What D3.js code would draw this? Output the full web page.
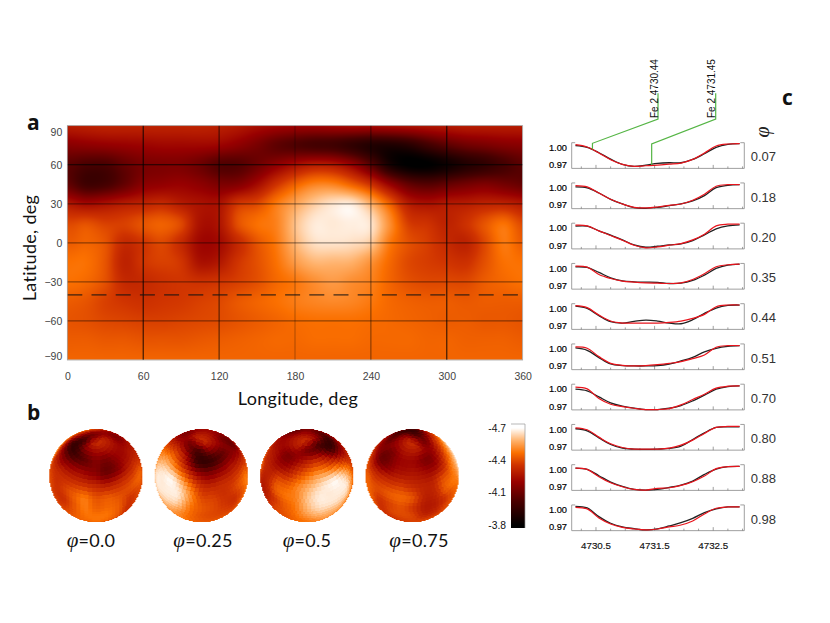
<!DOCTYPE html>
<html>
<head>
<meta charset="utf-8">
<script src="https://cdn.jsdelivr.net/npm/d3@7/dist/d3.min.js"></script>
<style>
html,body{margin:0;padding:0;background:#fff;}
svg{display:block;}
text{font-family:"Liberation Sans",sans-serif;}
.title{font-family:"Lato",sans-serif;fill:#111;letter-spacing:0.3px;}
</style>
</head>
<body>
<svg id="chart" width="830" height="623"></svg>
<script>
//map values. rows: lat 90 to -90 step 15, columns: lon 0 to 360 step 15
var mapLat=[90,75,60,45,30,15,0,-15,-30,-45,-60,-75,-90];
var map90=[-4.18,-4.19,-4.20,-4.20,-4.20,-4.20,-4.20,-4.20,-4.19,-4.17,-4.14,-4.12,-4.11,-4.11,-4.12,-4.13,-4.13,-4.14,-4.15,-4.16,-4.17,-4.18,-4.18,-4.18,-4.18];
var map75=[-4.07,-4.08,-4.09,-4.10,-4.11,-4.12,-4.12,-4.12,-4.11,-4.08,-4.04,-3.99,-3.96,-3.94,-3.93,-3.90,-3.87,-3.86,-3.88,-3.93,-3.98,-4.02,-4.04,-4.06,-4.07];
var map60=[-3.98,-3.95,-3.95,-4.00,-4.04,-4.05,-4.05,-4.02,-3.97,-3.97,-4.02,-4.08,-4.14,-4.18,-4.17,-4.10,-3.98,-3.85,-3.80,-3.80,-3.83,-3.87,-3.90,-3.94,-3.98];
var map45=[-4.00,-3.93,-3.94,-4.00,-4.07,-4.09,-4.10,-4.08,-4.05,-4.06,-4.13,-4.24,-4.36,-4.44,-4.44,-4.36,-4.24,-4.10,-4.00,-3.97,-4.00,-4.03,-4.05,-4.03,-4.00];
var map30=[-4.17,-4.13,-4.15,-4.18,-4.20,-4.22,-4.18,-4.15,-4.15,-4.25,-4.30,-4.42,-4.52,-4.60,-4.65,-4.66,-4.55,-4.36,-4.18,-4.15,-4.17,-4.18,-4.20,-4.20,-4.17];
var map15=[-4.30,-4.32,-4.28,-4.28,-4.33,-4.36,-4.30,-4.15,-4.16,-4.32,-4.40,-4.44,-4.58,-4.66,-4.66,-4.67,-4.65,-4.47,-4.27,-4.24,-4.20,-4.24,-4.33,-4.40,-4.30];
var map00=[-4.35,-4.37,-4.33,-4.22,-4.25,-4.30,-4.22,-4.12,-4.13,-4.22,-4.33,-4.42,-4.56,-4.64,-4.65,-4.64,-4.60,-4.42,-4.32,-4.27,-4.22,-4.20,-4.30,-4.42,-4.35];
var mapS15=[-4.40,-4.40,-4.33,-4.20,-4.25,-4.28,-4.25,-4.15,-4.17,-4.25,-4.32,-4.40,-4.50,-4.56,-4.56,-4.55,-4.48,-4.38,-4.30,-4.27,-4.25,-4.24,-4.32,-4.40,-4.40];
var mapS30=[-4.40,-4.38,-4.32,-4.22,-4.22,-4.24,-4.25,-4.24,-4.25,-4.28,-4.32,-4.38,-4.42,-4.47,-4.50,-4.47,-4.44,-4.37,-4.32,-4.30,-4.30,-4.30,-4.35,-4.38,-4.40];
var mapS45=[-4.35,-4.33,-4.28,-4.25,-4.24,-4.25,-4.26,-4.28,-4.30,-4.34,-4.37,-4.40,-4.43,-4.45,-4.46,-4.45,-4.42,-4.38,-4.36,-4.35,-4.35,-4.34,-4.35,-4.35,-4.35];
var mapS60=[-4.33,-4.32,-4.30,-4.29,-4.28,-4.28,-4.29,-4.30,-4.31,-4.33,-4.35,-4.37,-4.39,-4.40,-4.40,-4.40,-4.39,-4.38,-4.37,-4.36,-4.35,-4.35,-4.34,-4.34,-4.33];
var mapS75=[-4.35,-4.35,-4.34,-4.34,-4.33,-4.33,-4.33,-4.34,-4.35,-4.36,-4.37,-4.38,-4.38,-4.39,-4.39,-4.39,-4.38,-4.38,-4.38,-4.37,-4.37,-4.36,-4.36,-4.36,-4.35];
var mapS90=[-4.37,-4.37,-4.37,-4.37,-4.37,-4.37,-4.37,-4.37,-4.37,-4.37,-4.37,-4.37,-4.37,-4.37,-4.37,-4.37,-4.37,-4.37,-4.37,-4.37,-4.37,-4.37,-4.37,-4.37,-4.37];

//colour table, taken from the colour bar
var abundStops=[-3.8,-4.02,-4.2,-4.36,-4.47,-4.58,-4.7];
var abundColors=["#000000","#4a0000","#980000","#d03400","#fb7000","#ffb068","#ffffff"];
//the rows above were read with a first guess ramp, this puts them on the bar
var readStops=[-3.8,-3.95,-4.1,-4.25,-4.4,-4.55,-4.7];
var calibrate=d3.scaleLinear().domain(readStops).range(abundStops);
var mapRows=[map90,map75,map60,map45,map30,map15,map00,mapS15,mapS30,mapS45,mapS60,mapS75,mapS90].map(function(r){
	return r.map(function(v){return calibrate(v);});
});

var lonTicks=[0,60,120,180,240,300,360];
var latTicks=[90,60,30,0,-30,-60,-90];
var barTicks=[-4.7,-4.4,-4.1,-3.8];
var dashLat=-40;
var lineStrength={60:0.9,120:0.7,180:0.3,240:0.5,300:0.9};

//globes
var globePhases=[0.0,0.25,0.5,0.75];
var globeLabels=["0.0","0.25","0.5","0.75"];
var globeLabelX=[91,203,307,419];
var globeTilt=43;
var globeDark=0.75,globeMean=-4.45;

//line profiles
var wave=[4730.15,4730.35,4730.55,4730.75,4730.95,4731.15,4731.35,4731.55,4731.75,4731.95,4732.15,4732.35,4732.55,4732.75,4732.95];
var phases=["0.07","0.18","0.20","0.35","0.44","0.51","0.70","0.80","0.88","0.98"];
var fluxObs=[
	[1.0035,1.0006,.9913,.9803,.9711,.9676,.9699,.9728,.9739,.9739,.9797,.9896,1.0006,1.0058,1.0070],
	[1.0018,1.0000,.9913,.9803,.9722,.9659,.9647,.9664,.9693,.9722,.9774,.9867,1.0006,1.0046,1.0058],
	[1.0035,1.0035,.9954,.9879,.9797,.9711,.9670,.9687,.9711,.9728,.9786,.9884,.9989,1.0041,1.0058],
	[1.0029,1.0018,.9931,.9838,.9786,.9769,.9763,.9757,.9739,.9745,.9792,.9884,1.0000,1.0058,1.0075],
	[1.0046,1.0006,.9879,.9774,.9751,.9780,.9803,.9786,.9751,.9739,.9809,.9919,1.0012,1.0058,1.0064],
	[1.0018,.9977,.9850,.9739,.9711,.9705,.9705,.9711,.9739,.9792,.9855,.9948,1.0012,1.0046,1.0058],
	[1.0000,.9971,.9867,.9763,.9705,.9670,.9647,.9647,.9670,.9716,.9797,.9896,1.0000,1.0046,1.0058],
	[1.0012,.9977,.9855,.9739,.9676,.9659,.9653,.9659,.9670,.9711,.9826,.9942,1.0035,1.0046,1.0046],
	[1.0029,1.0006,.9896,.9786,.9711,.9659,.9647,.9659,.9693,.9734,.9803,.9919,1.0012,1.0052,1.0058],
	[1.0064,1.0035,.9884,.9769,.9705,.9676,.9653,.9670,.9722,.9780,.9855,.9954,1.0018,1.0052,1.0052]
];
var fluxFit=[
	[1.0052,1.0012,.9908,.9792,.9711,.9676,.9687,.9699,.9716,.9734,.9797,.9908,1.0029,1.0064,1.0070],
	[1.0041,1.0018,.9913,.9803,.9722,.9664,.9653,.9670,.9699,.9722,.9786,.9890,1.0029,1.0058,1.0058],
	[1.0052,1.0041,.9954,.9873,.9792,.9705,.9659,.9676,.9705,.9734,.9797,.9896,1.0041,1.0070,1.0070],
	[1.0041,1.0023,.9896,.9826,.9780,.9763,.9751,.9745,.9739,.9751,.9809,.9908,1.0029,1.0064,1.0075],
	[1.0052,1.0018,.9890,.9786,.9751,.9751,.9751,.9751,.9763,.9786,.9832,.9902,1.0035,1.0064,1.0064],
	[1.0035,1.0012,.9867,.9751,.9716,.9705,.9711,.9728,.9751,.9780,.9832,.9896,1.0029,1.0058,1.0058],
	[1.0035,1.0006,.9838,.9739,.9699,.9670,.9647,.9647,.9664,.9728,.9821,.9913,1.0018,1.0052,1.0058],
	[1.0029,.9994,.9867,.9751,.9687,.9659,.9659,.9659,.9676,.9728,.9815,.9931,1.0035,1.0052,1.0052],
	[1.0029,1.0006,.9879,.9774,.9705,.9659,.9647,.9676,.9687,.9728,.9792,.9890,1.0018,1.0052,1.0058],
	[1.0046,1.0018,.9861,.9757,.9699,.9670,.9653,.9670,.9705,.9739,.9809,.9931,1.0029,1.0052,1.0052]
];
var waveTicks=[4730.5,4731.5,4732.5];
var fluxTicks=[1.00,0.97];
var lineWaves=[4730.44,4731.45];
var lineNames=["Fe 2 4730.44","Fe 2 4731.45"];

var svg=d3.select("#chart");
var color=d3.scaleLinear().domain(abundStops).range(abundColors).clamp(true);

function catmull(p0,p1,p2,p3,t){
	return 0.5*(2*p1+(p2-p0)*t+(2*p0-5*p1+4*p2-p3)*t*t+(3*p1-p0-3*p2+p3)*t*t*t);
}

//grid lookup, wraps in longitude
function cell(r,c){
	r=Math.max(0,Math.min(mapRows.length-1,r));
	c=(c+24)%24;
	return mapRows[r][c];
}

function sample(lon,lat){
	var fc=((lon%360)+360)%360/15,fr=(90-lat)/15;
	var c=Math.floor(fc),r=Math.min(Math.floor(fr),mapRows.length-2);
	var tc=fc-c,tr=fr-r;
	var rows=[-1,0,1,2].map(function(dr){
		return catmull(cell(r+dr,c-1),cell(r+dr,c),cell(r+dr,c+1),cell(r+dr,c+2),tc);
	});
	return catmull(rows[0],rows[1],rows[2],rows[3],tr);
}

function putImage(x,y,w,h,paint){
	var canvas=document.createElement("canvas");
	canvas.width=w;canvas.height=h;
	var ctx=canvas.getContext("2d");
	var img=ctx.createImageData(w,h);
	for(var j=0;j<h;j++){
		for(var i=0;i<w;i++){
			var v=paint(i,j);
			if(v===null) continue;
			var c=d3.rgb(color(v)),k=(j*w+i)*4;
			img.data[k]=c.r;img.data[k+1]=c.g;img.data[k+2]=c.b;img.data[k+3]=255;
		}
	}
	ctx.putImageData(img,0,0);
	return svg.append("image").attr("x",x).attr("y",y).attr("width",w).attr("height",h)
		.attr("href",canvas.toDataURL());
}

//a. surface map
var lonScale=d3.scaleLinear().domain([0,360]).range([67.3,522.7]);
var latScale=d3.scaleLinear().domain([90,-90]).range([125.7,360]);
var mapW=Math.round(lonScale(360)-lonScale(0)),mapH=Math.round(latScale(-90)-latScale(90));
putImage(lonScale(0),latScale(90),mapW,mapH,function(i,j){
	return sample(lonScale.invert(lonScale(0)+i+0.5),latScale.invert(latScale(90)+j+0.5));
});

var grid=svg.append("g").attr("stroke","#000");
grid.selectAll(".vline").data(lonTicks.slice(1,-1)).enter().append("line")
	.attr("x1",lonScale).attr("x2",lonScale)
	.attr("y1",latScale(90)).attr("y2",latScale(-90))
	.attr("stroke-opacity",function(d){return lineStrength[d];});
grid.selectAll(".hline").data(latTicks.slice(1,-1)).enter().append("line")
	.attr("y1",latScale).attr("y2",latScale)
	.attr("x1",lonScale(0)).attr("x2",lonScale(360))
	.attr("stroke-width",1.2)
	.attr("stroke-opacity",function(d){return d==60?0.8:0.42;});
svg.append("line").attr("x1",lonScale(0)).attr("x2",lonScale(360))
	.attr("y1",latScale(dashLat)).attr("y2",latScale(dashLat))
	.attr("stroke","#111").attr("stroke-dasharray","15,9.2");
svg.append("rect").attr("x",lonScale(0)).attr("y",latScale(90)).attr("width",lonScale(360)-lonScale(0)).attr("height",latScale(-90)-latScale(90))
	.attr("fill","none").attr("stroke","#999").attr("stroke-width",0.7);

var xAxis=svg.append("g").attr("transform","translate(0,"+latScale(-90)+")")
	.call(d3.axisBottom(lonScale).tickValues(lonTicks).tickSize(0).tickPadding(13));
var yAxis=svg.append("g").attr("transform","translate("+lonScale(0)+",0)")
	.call(d3.axisLeft(latScale).tickValues(latTicks).tickSize(0).tickPadding(5));
xAxis.select(".domain").remove();
yAxis.select(".domain").remove();
[xAxis,yAxis].forEach(function(a){
	a.selectAll("text").attr("font-size",10.5).attr("fill","#444").style("font-family","'Liberation Sans',sans-serif");
});
yAxis.selectAll(".tick text").attr("dy",function(d){return d==90?"0.95em":(d==-90?"-0.05em":"0.32em");});

svg.append("text").attr("class","title").attr("x",298).attr("y",405).attr("text-anchor","middle")
	.attr("font-size",18).text("Longitude, deg");
svg.append("text").attr("class","title").attr("transform","translate(36,248) rotate(-90)").attr("text-anchor","middle")
	.attr("font-size",18).text("Latitude, deg");

//panel letters
[["a",27,130],["b",27,420],["c",782,105]].forEach(function(d){
	svg.append("text").attr("x",d[1]).attr("y",d[2]).attr("font-size",21).attr("font-weight","bold")
		.style("font-family","'Open Sans',sans-serif").attr("fill","#111").text(d[0]);
});

//b. globes, same map seen from the line of sight
var globeScale=d3.scalePoint().domain(globePhases).range([96,412.3]);
var globeY=475.7,globeR=46.7;
globePhases.forEach(function(ph,n){
	var size=Math.ceil(globeR*2);
	var proj=d3.geoOrthographic().scale(globeR).translate([globeR,globeR])
		.rotate([-360*(1-ph),-globeTilt]).clipAngle(null);
	putImage(globeScale(ph)-globeR,globeY-globeR,size,size,function(i,j){
		var dx=i+0.5-globeR,dy=j+0.5-globeR;
		if(dx*dx+dy*dy>globeR*globeR) return null;
		var ll=proj.invert([i+0.5,j+0.5]);
		//blocky surface elements
		var band=Math.round(ll[1]/5)*5;
		var n2=Math.max(1,Math.round(72*Math.cos(band*Math.PI/180)));
		var step=360/n2;
		var lon=(Math.floor(((ll[0]%360)+360)%360/step)+0.5)*step;
		var v=sample(lon,band);
		return v>globeMean?globeMean+globeDark*(v-globeMean):v;
	});
	var label=svg.append("text").attr("x",globeLabelX[n]).attr("y",547).attr("text-anchor","middle")
		.attr("font-size",18).attr("class","title");
	label.append("tspan").style("font-family","'Liberation Serif',serif").style("font-style","italic").attr("font-size",21).text("\u03c6");
	label.append("tspan").text("="+globeLabels[n]);
});

//colour bar
var barScale=d3.scaleLinear().domain([-4.7,-3.8]).range([428,525]);
var barTop=424,barH=104,barX=511,barW=14;
putImage(barX,barTop,barW,barH,function(i,j){return barScale.invert(barTop+j+0.5);});
svg.append("path").attr("d","M"+barX+","+barTop+"H"+(barX+barW)+"V"+(barTop+barH)).attr("fill","none").attr("stroke","#999").attr("stroke-width",0.7);
var barAxis=svg.append("g").attr("transform","translate("+barX+",0)")
	.call(d3.axisLeft(barScale).tickValues(barTicks).tickSize(0).tickPadding(5).tickFormat(d3.format(".1f")));
barAxis.select(".domain").remove();
barAxis.selectAll("text").attr("font-size",10.3).attr("fill","#111").style("font-family","'Liberation Sans',sans-serif").text(function(d){return d.toFixed(1);});

//c. line profiles
var waveScale=d3.scaleLinear().domain([4730.086,4733.03]).range([571.7,744.3]);
var plotH=25.7,plotStep=40.25,plotTop=142.7;
var fluxScale=d3.scaleLinear().domain([0.9641,1.0087]).range([plotH,0]);
var profile=d3.line().x(function(d,i){return waveScale(wave[i]);}).y(function(d){return fluxScale(d);}).curve(d3.curveCatmullRom);
var minorTicks=d3.range(4730.25,4733.01,0.25);

phases.forEach(function(ph,i){
	var g=svg.append("g").attr("transform","translate(0,"+(plotTop+plotStep*i)+")");
	g.append("path").attr("fill","none").attr("stroke","#888").attr("stroke-width",0.8)
		.attr("d","M"+(waveScale.range()[0]+3.5)+",0H"+waveScale.range()[0]+"V"+plotH+"H"+waveScale.range()[1]+"V0H"+(waveScale.range()[1]-4));
	g.selectAll(".tk").data(minorTicks).enter().append("line")
		.attr("x1",waveScale).attr("x2",waveScale).attr("y1",plotH)
		.attr("y2",function(d){return plotH-(waveTicks.indexOf(d)>=0?3.5:2);})
		.attr("stroke","#777").attr("stroke-width",0.7);
	g.append("path").attr("d",profile(fluxObs[i])).attr("fill","none").attr("stroke","#222").attr("stroke-width",1.3);
	g.append("path").attr("d",profile(fluxFit[i])).attr("fill","none").attr("stroke","#e8141c").attr("stroke-width",1.2);
	g.selectAll(".fl").data(fluxTicks).enter().append("text")
		.attr("x",567).attr("y",fluxScale).attr("dy","0.34em").attr("text-anchor","end")
		.attr("font-size",9.3).attr("fill","#000").attr("stroke","#000").attr("stroke-width",0.2).text(function(d){return d.toFixed(2);});
	g.append("text").attr("x",750.7).attr("y",14).attr("dy","0.36em").attr("font-size",13).attr("fill","#333").text(ph);
});
svg.append("g").selectAll("text").data(waveTicks).enter().append("text")
	.attr("x",waveScale).attr("y",549).attr("text-anchor","middle").attr("font-size",9.8).attr("fill","#111")
	.attr("stroke","#111").attr("stroke-width",0.15)
	.text(function(d){return d.toFixed(1);});

//phi heading, set on its side
svg.append("text").attr("transform","translate(769,132) rotate(-90)").attr("text-anchor","middle")
	.attr("font-size",20).style("font-family","'Liberation Serif',serif").style("font-style","italic").attr("fill","#222").text("\u03c6");

//line identification
var labelX=[658,715.7];
lineWaves.forEach(function(w,i){
	var end=i==0?149.3:165;
	var start=i==0?143.3:144;
	svg.append("path").attr("fill","none").attr("stroke","#55b545").attr("stroke-width",1.2)
		.attr("d","M"+labelX[i]+",93.3V119L"+waveScale(w)+","+start+"V"+end);
	svg.append("text").attr("transform","translate("+(labelX[i]-0.5)+",118) rotate(-90)")
		.attr("font-size",10).attr("fill","#111").text(lineNames[i]);
});
</script>
</body>
</html>
